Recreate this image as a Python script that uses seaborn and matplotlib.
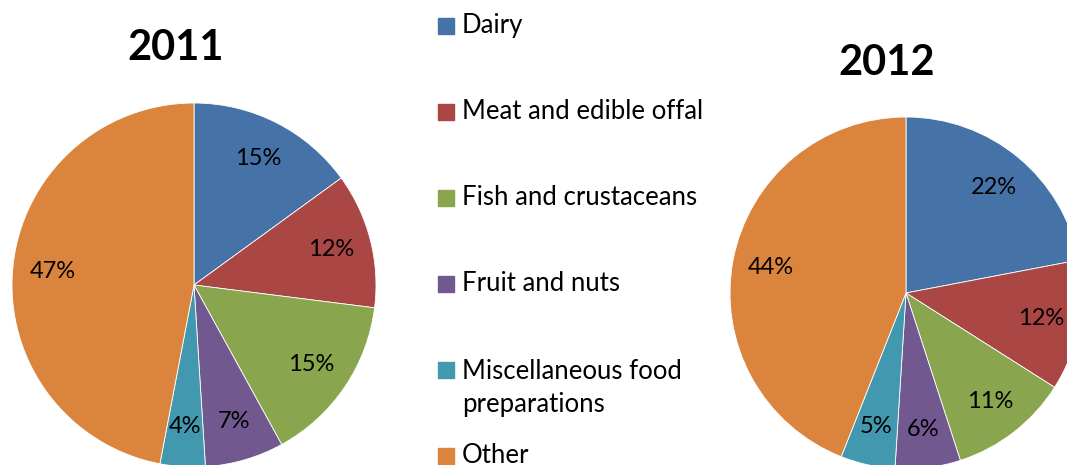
import matplotlib.pyplot as plt
import matplotlib.patches as mpatches
import seaborn as sns

categories = ["Dairy", "Meat and edible offal", "Fish and crustaceans",
              "Fruit and nuts", "Miscellaneous food\npreparations", "Other"]
share_2011 = [15, 12, 15, 7, 4, 47]
share_2012 = [22, 12, 11, 6, 5, 44]
years = ["2011", "2012"]
colors = ["#4572A7", "#AA4643", "#89A54E", "#71588F", "#4198AF", "#DB843D"]

sns.set_theme(style="white")
plt.rcParams['font.family'] = ['Lato', 'DejaVu Sans']

W, H = 1067, 465
fig = plt.figure(figsize=(W / 100, H / 100), dpi=100)
ax = fig.add_axes([0, 0, 1, 1])

# pies (pixel coordinates, y measured from top)
pies = [(share_2011, 194, 285, 182, 176, 48),
        (share_2012, 906, 293, 176, 887, 63)]
for (vals, cx, cy, r, tx, ty), yr in zip(pies, years):
    ax.pie(vals, colors=colors, startangle=90, counterclock=False,
           center=(cx, H - cy), radius=r, frame=True,
           autopct=lambda p: f"{p:.0f}%", pctdistance=0.78,
           wedgeprops=dict(edgecolor="white", linewidth=0.6),
           textprops=dict(fontsize=17, color="black"))
    ax.text(tx, H - ty, yr, ha="center", va="center", fontsize=30,
            fontweight="bold", color="black")

# legend drawn by hand; square sits level with the first line
line_gap = 35
for i, (lab, col) in enumerate(zip(categories, colors)):
    y = 26 + 86 * i
    n_extra = lab.count("\n")
    ax.add_patch(mpatches.Rectangle((438, H - y - 8), 16, 16, color=col))
    ax.text(462, H - y - 7 - n_extra * line_gap, lab, ha="left",
            va="baseline", fontsize=18.5, color="black", linespacing=1.42)

ax.set_xlim(0, W)
ax.set_ylim(0, H)
ax.set_aspect("equal")
ax.axis("off")

fig.savefig("out.png", dpi=100)
